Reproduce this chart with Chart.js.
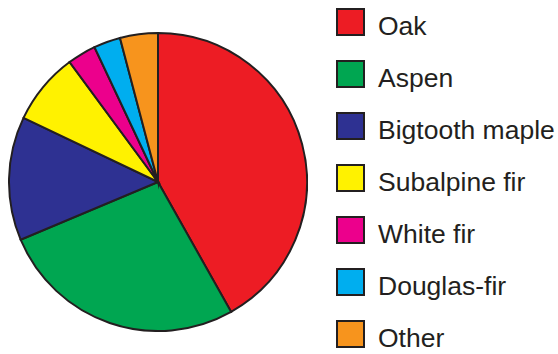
<!DOCTYPE html>
<html>
<head>
  <title>Tree species share</title>
  <script src="https://cdn.jsdelivr.net/npm/chart.js"></script>
  <style>
    body { margin: 0; background: #fff; font-family: "Liberation Sans", Arial, sans-serif; }
    #wrap { position: relative; width: 558px; height: 354px; overflow: hidden; }
    #pieBox { position: absolute; left: 8px; top: 32px; width: 300px; height: 300px; }
    .key { position: absolute; left: 336px; height: 28px; }
    .key .sw { position: absolute; left: 0; top: 0; width: 29px; height: 28px; box-sizing: border-box; border: 2px solid #231f20; }
    .key .lbl { position: absolute; left: 42px; top: 5px; font-size: 26.5px; line-height: 26px; color: #231f20; white-space: nowrap; }
  </style>
</head>
<body>
  <div id="wrap">
    <div id="pieBox"><canvas id="pie"></canvas></div>
    <div id="legend"></div>
  </div>

  <script>
    const species = ['Oak', 'Aspen', 'Bigtooth maple', 'Subalpine fir', 'White fir', 'Douglas-fir', 'Other'];
    const shares = [41.8, 26.8, 13.4, 7.8, 3.1, 2.9, 4.1];
    const colors = ['#ed1c24', '#00a651', '#2e3192', '#fff200', '#ec008c', '#00aeef', '#f7941d'];

    // legend on the right, one row per species
    const legend = document.getElementById('legend');
    species.forEach((name, i) => {
      const row = document.createElement('div');
      row.className = 'key';
      row.style.top = (8 + i * 52) + 'px';
      row.innerHTML = `<div class="sw" style="background:${colors[i]}"></div><div class="lbl">${name}</div>`;
      legend.appendChild(row);
    });

    new Chart(document.getElementById('pie'), {
      type: 'pie',
      data: {
        labels: species,
        datasets: [{
          data: shares,
          backgroundColor: colors,
          borderColor: '#231f20',
          borderWidth: 2,
          borderJoinStyle: 'miter'
        }]
      },
      options: {
        responsive: true,
        maintainAspectRatio: false,
        animation: false,
        layout: { padding: 0 },
        plugins: {
          legend: { display: false },
          tooltip: { enabled: false }
        }
      }
    });
  </script>
</body>
</html>
